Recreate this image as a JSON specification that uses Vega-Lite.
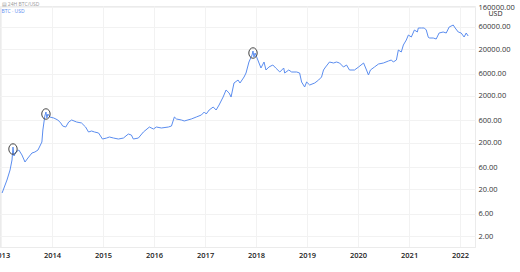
{
 "$schema": "https://vega.github.io/schema/vega-lite/v6.json",
 "width": 475,
 "height": 241,
 "autosize": "none",
 "padding": {"left": 0, "top": 6, "right": 45, "bottom": 25},
 "background": "white",
 "config": {"view": {"stroke": "#ebebeb"}, "font": "Open Sans"},
 "resolve": {"axis": {"y": "independent"}},
 "layer": [
  {
   "data": {"values": [
    {"date": "2013-01-08", "price": 16.7},
    {"date": "2013-02-12", "price": 31.7},
    {"date": "2013-03-06", "price": 51.9},
    {"date": "2013-03-20", "price": 85},
    {"date": "2013-03-27", "price": 161},
    {"date": "2013-04-03", "price": 103.5},
    {"date": "2013-04-17", "price": 126},
    {"date": "2013-05-08", "price": 139},
    {"date": "2013-05-30", "price": 109},
    {"date": "2013-06-21", "price": 77},
    {"date": "2013-07-12", "price": 93.8},
    {"date": "2013-08-10", "price": 120},
    {"date": "2013-08-31", "price": 126},
    {"date": "2013-09-22", "price": 139},
    {"date": "2013-10-20", "price": 206},
    {"date": "2013-10-27", "price": 373},
    {"date": "2013-11-10", "price": 744},
    {"date": "2013-11-18", "price": 906},
    {"date": "2013-11-25", "price": 674},
    {"date": "2013-12-02", "price": 821},
    {"date": "2013-12-16", "price": 708},
    {"date": "2014-01-13", "price": 674},
    {"date": "2014-02-11", "price": 611},
    {"date": "2014-03-04", "price": 527},
    {"date": "2014-03-18", "price": 454},
    {"date": "2014-04-09", "price": 432},
    {"date": "2014-04-30", "price": 553},
    {"date": "2014-05-21", "price": 611},
    {"date": "2014-06-26", "price": 553},
    {"date": "2014-07-31", "price": 527},
    {"date": "2014-08-29", "price": 432},
    {"date": "2014-09-19", "price": 338},
    {"date": "2014-10-11", "price": 355},
    {"date": "2014-11-01", "price": 338},
    {"date": "2014-11-30", "price": 322},
    {"date": "2014-12-28", "price": 239},
    {"date": "2015-01-26", "price": 251},
    {"date": "2015-02-16", "price": 264},
    {"date": "2015-03-17", "price": 251},
    {"date": "2015-04-21", "price": 239},
    {"date": "2015-05-27", "price": 251},
    {"date": "2015-07-01", "price": 306},
    {"date": "2015-07-23", "price": 291},
    {"date": "2015-08-06", "price": 239},
    {"date": "2015-09-11", "price": 251},
    {"date": "2015-10-17", "price": 338},
    {"date": "2015-11-29", "price": 432},
    {"date": "2015-12-28", "price": 392},
    {"date": "2016-01-18", "price": 432},
    {"date": "2016-02-23", "price": 412},
    {"date": "2016-04-13", "price": 432},
    {"date": "2016-05-05", "price": 454},
    {"date": "2016-05-26", "price": 708},
    {"date": "2016-06-10", "price": 642},
    {"date": "2016-07-15", "price": 611},
    {"date": "2016-08-05", "price": 582},
    {"date": "2016-09-24", "price": 642},
    {"date": "2016-10-30", "price": 708},
    {"date": "2016-12-05", "price": 781},
    {"date": "2016-12-26", "price": 906},
    {"date": "2017-01-09", "price": 821},
    {"date": "2017-01-30", "price": 1000},
    {"date": "2017-02-28", "price": 1159},
    {"date": "2017-03-21", "price": 1000},
    {"date": "2017-04-11", "price": 1279},
    {"date": "2017-05-10", "price": 1897},
    {"date": "2017-05-31", "price": 2680},
    {"date": "2017-06-22", "price": 2311},
    {"date": "2017-07-06", "price": 1897},
    {"date": "2017-07-27", "price": 3786},
    {"date": "2017-08-25", "price": 4386},
    {"date": "2017-09-08", "price": 3786},
    {"date": "2017-10-07", "price": 5089},
    {"date": "2017-10-21", "price": 6196},
    {"date": "2017-11-11", "price": 10660},
    {"date": "2017-12-03", "price": 15060},
    {"date": "2017-12-10", "price": 18340},
    {"date": "2017-12-17", "price": 13640},
    {"date": "2017-12-25", "price": 16620},
    {"date": "2018-01-08", "price": 12990},
    {"date": "2018-01-22", "price": 10150},
    {"date": "2018-02-05", "price": 7930},
    {"date": "2018-02-27", "price": 10660},
    {"date": "2018-03-13", "price": 7188},
    {"date": "2018-04-03", "price": 8333},
    {"date": "2018-05-01", "price": 9196},
    {"date": "2018-05-22", "price": 7930},
    {"date": "2018-06-20", "price": 6512},
    {"date": "2018-07-18", "price": 7930},
    {"date": "2018-07-25", "price": 6196},
    {"date": "2018-08-23", "price": 7188},
    {"date": "2018-09-13", "price": 6512},
    {"date": "2018-10-19", "price": 6512},
    {"date": "2018-11-09", "price": 6196},
    {"date": "2018-11-23", "price": 3978},
    {"date": "2018-12-15", "price": 3108},
    {"date": "2018-12-29", "price": 3978},
    {"date": "2019-01-20", "price": 3430},
    {"date": "2019-02-25", "price": 3786},
    {"date": "2019-03-25", "price": 4386},
    {"date": "2019-04-15", "price": 5089},
    {"date": "2019-04-29", "price": 7188},
    {"date": "2019-05-14", "price": 8333},
    {"date": "2019-06-11", "price": 10660},
    {"date": "2019-07-10", "price": 10150},
    {"date": "2019-07-31", "price": 10660},
    {"date": "2019-08-22", "price": 10150},
    {"date": "2019-09-19", "price": 8333},
    {"date": "2019-10-11", "price": 9196},
    {"date": "2019-11-01", "price": 7188},
    {"date": "2019-12-07", "price": 7188},
    {"date": "2020-01-05", "price": 8333},
    {"date": "2020-02-10", "price": 10150},
    {"date": "2020-03-02", "price": 7188},
    {"date": "2020-03-16", "price": 5617},
    {"date": "2020-03-30", "price": 7188},
    {"date": "2020-04-28", "price": 8333},
    {"date": "2020-05-27", "price": 9660},
    {"date": "2020-07-01", "price": 10150},
    {"date": "2020-08-06", "price": 11200},
    {"date": "2020-08-27", "price": 11770},
    {"date": "2020-09-10", "price": 10660},
    {"date": "2020-10-02", "price": 11770},
    {"date": "2020-10-16", "price": 19270},
    {"date": "2020-11-06", "price": 17460},
    {"date": "2020-11-21", "price": 24650},
    {"date": "2020-12-12", "price": 31550},
    {"date": "2020-12-27", "price": 40370},
    {"date": "2021-01-17", "price": 36580},
    {"date": "2021-02-08", "price": 51630},
    {"date": "2021-03-01", "price": 46790},
    {"date": "2021-03-08", "price": 57000},
    {"date": "2021-03-30", "price": 57000},
    {"date": "2021-04-20", "price": 57000},
    {"date": "2021-05-04", "price": 51630},
    {"date": "2021-05-18", "price": 36580},
    {"date": "2021-05-25", "price": 34820},
    {"date": "2021-06-23", "price": 34820},
    {"date": "2021-07-14", "price": 33130},
    {"date": "2021-08-04", "price": 44540},
    {"date": "2021-09-02", "price": 46790},
    {"date": "2021-09-24", "price": 44540},
    {"date": "2021-10-15", "price": 59840},
    {"date": "2021-11-13", "price": 66050},
    {"date": "2021-11-27", "price": 57000},
    {"date": "2021-12-19", "price": 46790},
    {"date": "2022-01-09", "price": 44540},
    {"date": "2022-01-30", "price": 36580},
    {"date": "2022-02-14", "price": 44540},
    {"date": "2022-02-28", "price": 38430}
   ]},
   "mark": {"type": "line", "color": "#5b8def", "strokeWidth": 1},
   "encoding": {
    "x": {"field": "date", "type": "temporal",
     "scale": {"type": "utc", "nice": false, "domain": [{"year": 2012, "month": 12, "date": 24, "utc": true}, {"year": 2022, "month": 4, "date": 18, "utc": true}]},
     "axis": {"orient": "bottom", "format": "%Y", "tickCount": {"interval": "year", "step": 1}, "labelFontSize": 7.5, "labelFontWeight": 600, "labelColor": "#222", "labelPadding": 4, "ticks": false, "domain": true, "domainColor": "#ebebeb", "gridColor": "#f2f2f2", "labelFlush": false, "labelOverlap": false,
      "title": "▤ 24H BTC/USD", "titleX": 1, "titleY": -244, "titleAngle": 0, "titleAlign": "left", "titleBaseline": "middle", "titleFontSize": 5, "titleFontWeight": "normal", "titleColor": "#999"}},
    "y": {"field": "price", "type": "quantitative",
     "scale": {"type": "log", "nice": false, "domain": [1.165, 168700]},
     "axis": {"orient": "right", "values": [2, 6, 20, 60, 200, 600, 2000, 6000, 20000, 60000, 160000], "format": ".2f", "labelFontSize": 7.5, "labelColor": "#333", "labelPadding": 3, "ticks": false, "domain": false, "gridColor": "#f2f2f2", "labelOverlap": false, "labelFlush": false, "title": "USD", "titleAngle": 0, "titleX": 20, "titleY": 7, "titleFontSize": 7, "titleFontWeight": "normal", "titleColor": "#222", "titleAlign": "center", "titleBaseline": "middle"}}
   }
  },
  {
   "data": {"values": [
    {"date": "2013-03-27", "price": 146},
    {"date": "2013-11-18", "price": 821},
    {"date": "2017-12-10", "price": 16620}
   ]},
   "mark": {"type": "point", "shape": "M0,-1A0.8,1,0,1,1,0,1A0.8,1,0,1,1,0,-1Z", "size": 110, "stroke": "#444", "strokeWidth": 1, "filled": false, "opacity": 1},
   "encoding": {
    "x": {"field": "date", "type": "temporal"},
    "y": {"field": "price", "type": "quantitative",
     "axis": {"orient": "left", "labels": false, "ticks": false, "domain": false, "grid": false, "title": "BTC · USD", "titleX": 1, "titleY": 4, "titleAngle": 0, "titleAlign": "left", "titleBaseline": "middle", "titleFontSize": 5, "titleFontWeight": "normal", "titleColor": "#5b8def"}}
   }
  }
 ]
}
